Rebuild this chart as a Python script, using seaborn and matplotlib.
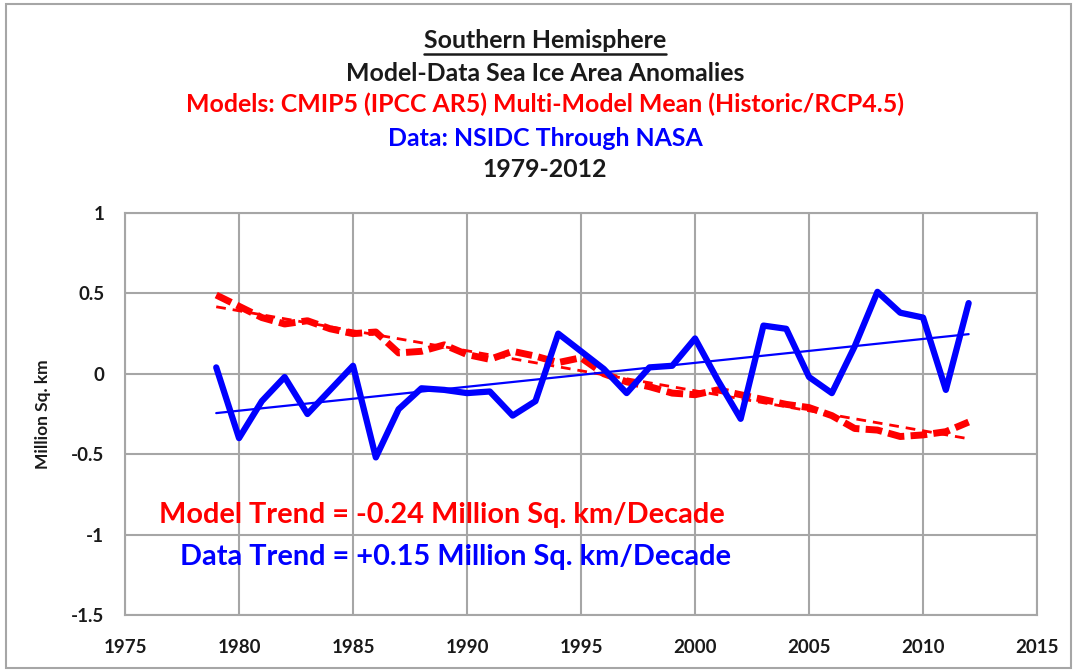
import matplotlib
matplotlib.use("Agg")
import matplotlib.pyplot as plt
import numpy as np
import pandas as pd
import seaborn as sns
from matplotlib.patches import Rectangle

# values (million sq. km anomalies)
years = list(range(1979, 2013))
data_nsidc = [0.04, -0.40, -0.17, -0.02, -0.25, -0.10, 0.05, -0.52, -0.22, -0.09,
              -0.10, -0.12, -0.11, -0.26, -0.17, 0.25, 0.14, 0.03, -0.12, 0.04,
              0.05, 0.22, -0.04, -0.28, 0.30, 0.28, -0.02, -0.12, 0.17, 0.51,
              0.38, 0.35, -0.10, 0.44]
model_mean = [0.49, 0.42, 0.35, 0.31, 0.33, 0.28, 0.25, 0.26, 0.13, 0.14,
              0.18, 0.12, 0.09, 0.14, 0.11, 0.07, 0.10, 0.00, -0.05, -0.08,
              -0.12, -0.13, -0.10, -0.13, -0.16, -0.19, -0.21, -0.26, -0.34, -0.35,
              -0.39, -0.38, -0.36, -0.30]

title_lines = ["Southern Hemisphere", "Model-Data Sea Ice Area Anomalies",
               "Models: CMIP5 (IPCC AR5) Multi-Model Mean (Historic/RCP4.5)",
               "Data: NSIDC Through NASA", "1979-2012"]
model_note = "Model Trend = -0.24 Million Sq. km/Decade"
data_note = "Data Trend = +0.15 Million Sq. km/Decade"
x_ticks = [1975, 1980, 1985, 1990, 1995, 2000, 2005, 2010, 2015]
y_ticks = [-1.5, -1, -0.5, 0, 0.5, 1]
y_ticklabels = ["-1.5", "-1", "-0.5", "0", "0.5", "1"]

df = pd.DataFrame({"year": years, "data": data_nsidc, "model": model_mean})
yr = np.array(years, dtype=float)
df["data_trend"] = np.polyval(np.polyfit(yr, df["data"], 1), yr)
df["model_trend"] = np.polyval(np.polyfit(yr, df["model"], 1), yr)

sns.set_style("white")
plt.rcParams["font.family"] = ["Lato", "DejaVu Sans"]

fig = plt.figure(figsize=(10.75, 6.71), dpi=100)
ax = fig.add_axes([0.1163, 0.0835, 0.8484, 0.599])

RED = "#ff0000"
BLUE = "#0000ff"
GRID = "#a6a6a6"
DARK = "#1a1a1a"

sns.lineplot(data=df, x="year", y="model", ax=ax, color=RED, lw=5,
             linestyle=(0, (2.4, 0.9)), zorder=3)
sns.lineplot(data=df, x="year", y="model_trend", ax=ax, color=RED, lw=2,
             linestyle=(0, (3.5, 2.5)), zorder=3)
sns.lineplot(data=df, x="year", y="data", ax=ax, color=BLUE, lw=4.5, zorder=4)
sns.lineplot(data=df, x="year", y="data_trend", ax=ax, color=BLUE, lw=1.6, zorder=4)

ax.set_xlim(1975, 2015)
ax.set_ylim(-1.5, 1)
ax.set_xticks(x_ticks)
ax.set_yticks(y_ticks)
ax.set_yticklabels(y_ticklabels)
ax.grid(True, color=GRID, lw=1.5, zorder=0)
ax.set_axisbelow(True)
for s in ax.spines.values():
    s.set_color(GRID)
    s.set_linewidth(1.5)
ax.tick_params(axis="y", length=6, width=1.5, color=GRID, pad=9, labelsize=13.5)
ax.tick_params(axis="x", length=0, pad=17, labelsize=13.5)
for lab in ax.get_xticklabels() + ax.get_yticklabels():
    lab.set_fontweight("bold")
    lab.set_color(DARK)
ax.set_xlabel("")
ax.set_ylabel("Million Sq. km", fontsize=12.5, fontweight="bold", color=DARK,
              labelpad=14)

ax.text(0.037, 0.249, model_note, transform=ax.transAxes, color=RED,
        fontsize=20.8, fontweight="bold", ha="left", va="center")
ax.text(0.06, 0.144, data_note, transform=ax.transAxes, color=BLUE,
        fontsize=20.8, fontweight="bold", ha="left", va="center")

title_y = [0.940, 0.891, 0.845, 0.794, 0.747]
title_col = [DARK, DARK, RED, BLUE, DARK]
for txt, yy, col in zip(title_lines, title_y, title_col):
    fig.text(0.507, yy, txt, color=col, fontsize=17.9, fontweight="bold",
             ha="center", va="center")
t0 = fig.texts[0]
fig.canvas.draw()
bb = t0.get_window_extent().transformed(fig.transFigure.inverted())
fig.add_artist(plt.Line2D([bb.x0, bb.x1], [bb.y0 - 0.003, bb.y0 - 0.003],
                          transform=fig.transFigure, color=DARK, lw=1.8))

fig.add_artist(Rectangle((0.006, 0.004), 0.99, 0.99, transform=fig.transFigure,
                         fill=False, edgecolor=GRID, lw=1.5))

fig.savefig("out.png", dpi=100)
